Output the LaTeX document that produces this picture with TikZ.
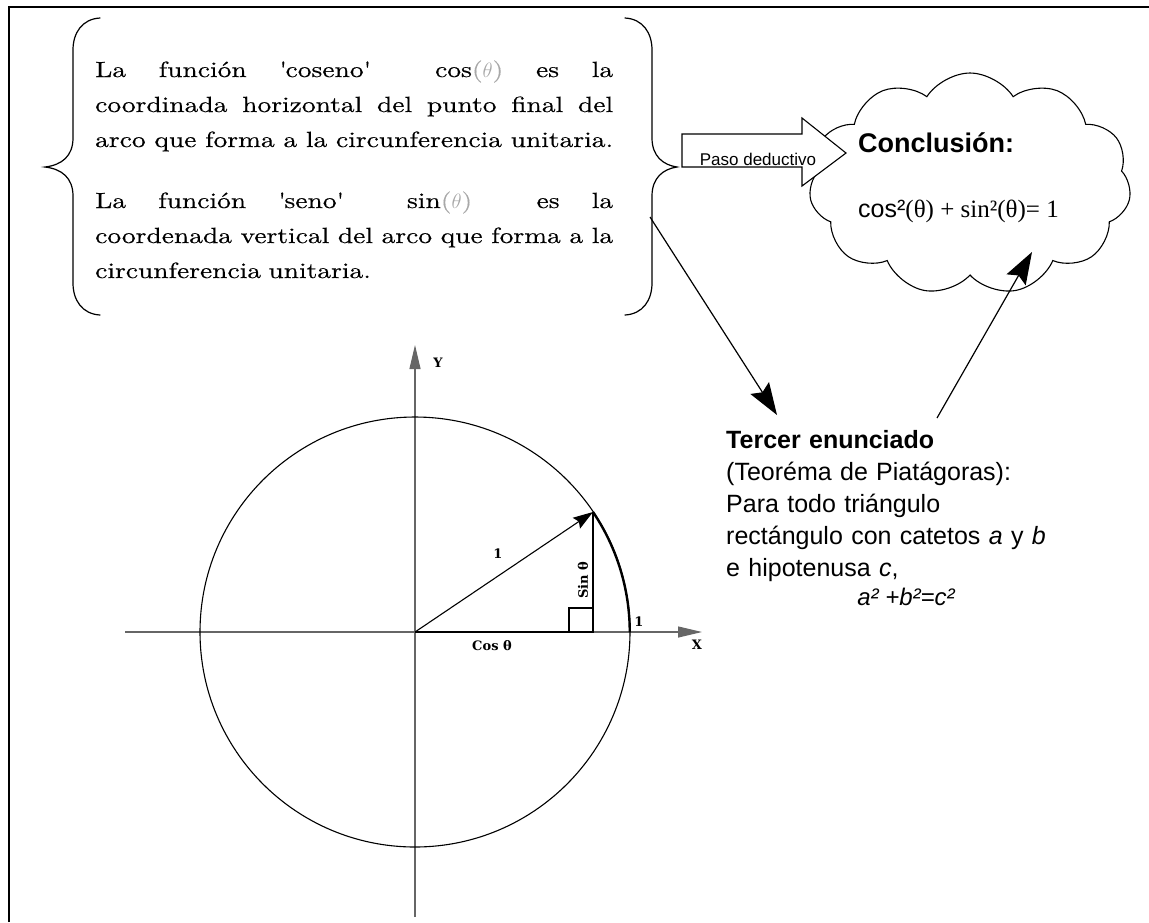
\documentclass[tikz,border=0pt]{standalone}
\usepackage{fontspec}
\usetikzlibrary{arrows.meta, positioning, shapes.symbols, calc}
\newfontfamily\bracefont[FakeStretch=1.25, FakeBold=0.4]{lmroman10-regular.otf}
\newfontfamily\sansfont{Liberation Sans}
\newfontfamily\timesfont{Liberation Serif}
\newfontfamily\axisfont{DejaVu Serif}
\definecolor{axisgray}{HTML}{666666}
\definecolor{thetagray}{HTML}{A8A8A8}
\newcommand{\grtheta}{{\color{thetagray}($\theta$)}}
\newcommand{\jline}[1]{\leavevmode\hbox to 518pt{\spaceskip=0.3em plus 1fil\relax #1}}

\begin{document}
\begin{tikzpicture}[x=1pt, y=-1pt,
  frame/.style={line width=2.5pt},
  brace/.style={line width=1.2pt, line cap=round},
  bracetext/.style={font=\bracefont\fontsize{22}{35}\selectfont,
                    inner sep=0pt, text width=518pt, align=left, anchor=base west},
  sanstext/.style={font=\sansfont\fontsize{25}{32}\selectfont,
                   inner sep=0pt, align=left, anchor=base west},
  axislabel/.style={font=\axisfont\bfseries\fontsize{13}{15}\selectfont, inner sep=1pt},
  axis/.style={line width=1.2pt, color=axisgray, -{Triangle[length=24pt, width=11pt]}},
  conn/.style={line width=1.2pt, -{Stealth[length=32pt, width=22pt, inset=5pt]}},
  thin/.style={line width=1.1pt}
]
\useasboundingbox (0,0) rectangle (1149,922);
\draw[frame] (9,922) -- (9,7) -- (1149,7);

% braces round the two statements
\draw[brace] (100,18) .. controls (82,19) and (73,33) .. (73,50) -- (73,138)
  .. controls (73,156) and (62,165) .. (45,167) .. controls (62,169) and (73,178) .. (73,196)
  -- (73,283) .. controls (73,300) and (82,314) .. (100,315);
\draw[brace] (625,18) .. controls (643,19) and (652,33) .. (652,50) -- (652,138)
  .. controls (652,156) and (663,165) .. (677,167) .. controls (663,169) and (652,178) .. (652,196)
  -- (652,283) .. controls (652,300) and (643,314) .. (625,315);

\node[bracetext] (parcos) at (95,77) {%
  \jline{La función \textquotesingle coseno\textquotesingle\ \ cos\grtheta\ es la}\\
  \jline{coordinada horizontal del punto final del}\\
  \jline{arco que forma a la circunferencia unitaria.}};
\node[bracetext] (parsin) at (95,208) {%
  \jline{La función \textquotesingle seno\textquotesingle\ \ sin\grtheta\ \ es la}\\
  \jline{coordenada vertical del arco que forma a la}\\
  circunferencia unitaria.};

% conclusion cloud and deductive step
\node[cloud, draw, fill=white, thin, cloud puffs=11, cloud puff arc=115, aspect=1.5,
      minimum width=322pt, minimum height=222pt, inner sep=0pt] (concl) at (970,184) {};
\node[sanstext, font=\sansfont\bfseries\fontsize{27}{32}\selectfont] (conctitle) at (858,152) {Conclusión:};
\node[sanstext] (concform) at (858,217) {cos²{\timesfont(θ) + sin²(θ)= 1}};

\draw[thin, fill=white] (682,134) -- (802,134) -- (802,118) -- (846,153) -- (802,186)
  -- (802,167) -- (682,167) -- cycle;
\node[font=\sansfont\fontsize{17}{20}\selectfont, inner sep=0pt, anchor=base] (paso) at (758,165) {Paso deductivo};

% third statement
\node[sanstext, text width=420pt] (tercer) at (726,448) {\textbf{Tercer enunciado}\\(Teoréma de Piatágoras):\\
  Para todo triángulo\\rectángulo con catetos \textit{a} y \textit{b}\\e hipotenusa \textit{c},};
\node[sanstext, anchor=base, font=\sansfont\itshape\fontsize{24}{30}\selectfont] (pitag) at (906,605) {a² +b²=c²};

\coordinate (bracept) at (650,217);
\coordinate (tercertip) at (777,415);
\coordinate (tercerpt) at (937,418);
\coordinate (concltip) at (1032,252);
\draw[conn] (bracept) -- (tercertip);
\draw[conn] (tercerpt) -- (concltip);

% unit circle
\coordinate (O) at (415,632);
\coordinate (P) at (593,512);
\coordinate (Q) at (593,632);
\draw[axis] (125,632) -- (702,632);
\draw[axis] (415,917) -- (415,345);
\draw[thin] (O) circle[radius=215];
\draw[line width=2.4pt] (P) arc[start angle=-34, end angle=0, radius=215];
\draw[line width=2.2pt] (O) -- (Q);
\draw[thin] (Q) -- (P);
\draw[thin] (569,608) rectangle (593,632);
\draw[thin, -{Stealth[length=20pt, width=13pt, inset=3pt]}] (O) -- (P);

\node[axislabel] (lx) at (697,645) {X};
\node[axislabel] (ly) at (438,363) {Y};
\node[axislabel] (lr) at (498,554) {1};
\node[axislabel] (lone) at (639,622) {1};
\node[axislabel] (lcos) at (492,646) {Cos θ};
\node[axislabel, rotate=90] (lsin) at (583,580) {Sin θ};
\end{tikzpicture}
\end{document}
